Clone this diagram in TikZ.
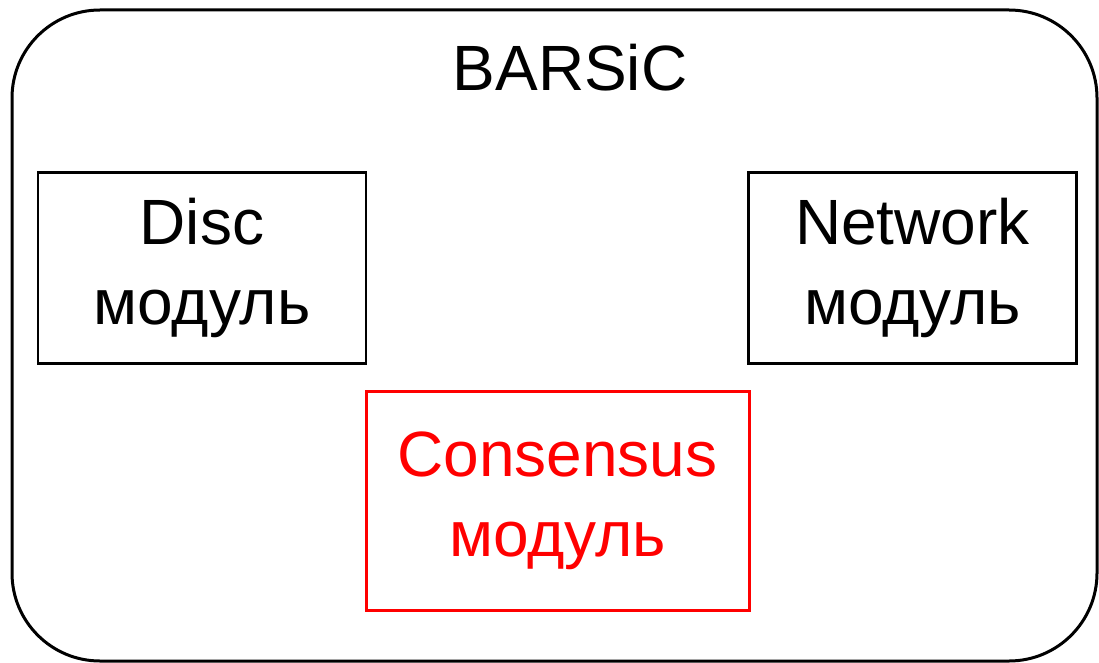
\documentclass[tikz,border=0pt]{standalone}
\usepackage{fontspec}
\usepackage{xcolor}
\setmainfont{Liberation Sans}
\definecolor{consred}{RGB}{255,0,0}

\begin{document}
\begin{tikzpicture}[x=1pt,y=-1pt,
  modbox/.style={draw,line width=2.5pt,minimum width=328pt,minimum height=191pt,
    align=center,font=\fontsize{64}{80}\selectfont,inner sep=0pt}]
\useasboundingbox (0,0) rectangle (1099,663);
\node[draw,line width=3pt,rounded corners=88pt,minimum width=1085pt,minimum height=651pt](frame) at (554.5,335.5){};
\node[font=\fontsize{64}{80}\selectfont](title) at (570,68){BARSiC};

\node[modbox](disc) at (202,268){Disc\\модуль};
\node[modbox](net) at (912.5,268){Network\\модуль};
\node[modbox,draw=consred,text=consred,line width=3pt,minimum width=383pt,minimum height=219pt](cons) at (557.5,500.5){Consensus\\модуль};
\end{tikzpicture}
\end{document}
